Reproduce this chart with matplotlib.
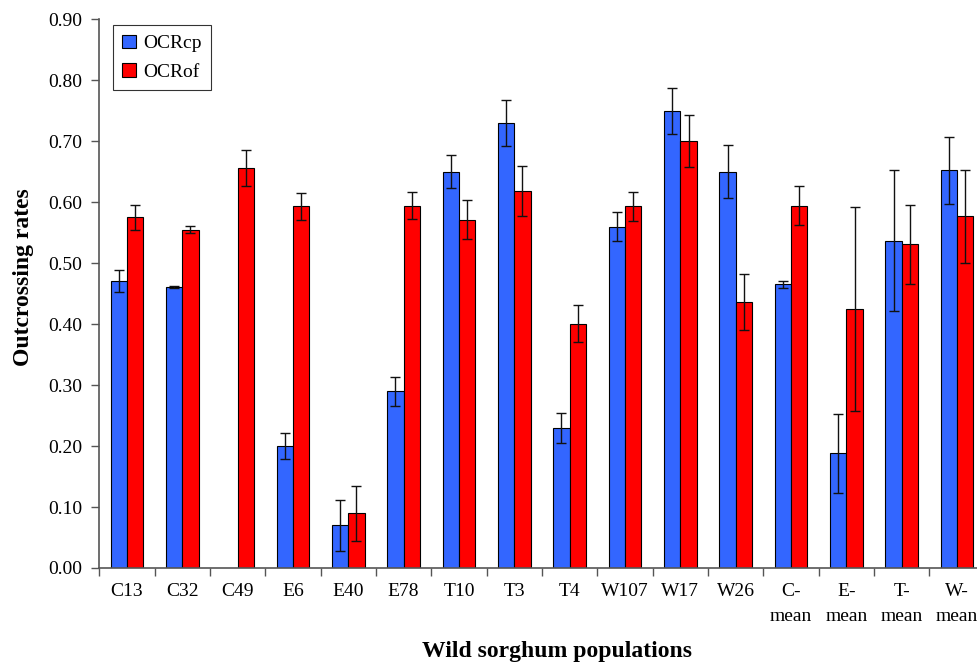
import matplotlib
matplotlib.use("Agg")
import matplotlib.pyplot as plt
import numpy as np

categories = ["C13", "C32", "C49", "E6", "E40", "E78", "T10", "T3", "T4",
              "W107", "W17", "W26", "C-\nmean", "E-\nmean", "T-\nmean", "W-\nmean"]
ocr_cp = [0.47, 0.461, 0.0, 0.20, 0.07, 0.29, 0.65, 0.73, 0.23,
          0.56, 0.75, 0.65, 0.465, 0.188, 0.537, 0.652]
ocr_cp_err = [0.018, 0.001, 0.0, 0.022, 0.042, 0.024, 0.027, 0.038, 0.025,
              0.024, 0.038, 0.043, 0.005, 0.065, 0.116, 0.055]
ocr_of = [0.575, 0.555, 0.656, 0.593, 0.09, 0.594, 0.571, 0.618, 0.401,
          0.593, 0.700, 0.437, 0.594, 0.425, 0.531, 0.577]
ocr_of_err = [0.02, 0.006, 0.03, 0.022, 0.045, 0.022, 0.032, 0.041, 0.03,
              0.024, 0.043, 0.046, 0.032, 0.1675, 0.065, 0.076]
yticks = [0.0, 0.1, 0.2, 0.3, 0.4, 0.5, 0.6, 0.7, 0.8, 0.9]

plt.rcParams['font.family'] = ['Liberation Serif', 'DejaVu Serif']

fig = plt.figure(figsize=(9.77, 6.63), dpi=100)
ax = fig.add_axes([0.1016, 0.1433, 0.9063, 0.8276])

x = np.arange(len(categories))
w = 0.295
blue = "#3366FF"
red = "#FF0000"
ekw = dict(ecolor="#111111", elinewidth=1.0, capsize=3.6, capthick=1.0)

cp_mask = np.array(ocr_cp) > 0
ax.bar(x[cp_mask] - w / 2, np.array(ocr_cp)[cp_mask], w, color=blue,
       edgecolor="black", linewidth=0.8, label="OCRcp",
       yerr=np.array(ocr_cp_err)[cp_mask], error_kw=ekw, zorder=2)
ax.bar(x + w / 2, ocr_of, w, color=red, edgecolor="black", linewidth=0.8,
       label="OCRof", yerr=ocr_of_err, error_kw=ekw, zorder=2)

ax.set_xlim(-0.5, len(categories) - 0.5)
ax.set_ylim(0, 0.9)
ax.set_yticks(yticks)
ax.set_yticklabels([f"{v:.2f}" for v in yticks], fontsize=14)

ax.set_xticks(np.arange(len(categories) + 1) - 0.5)
ax.set_xticklabels([])
ax.set_xticks(x, minor=True)
ax.set_xticklabels(categories, minor=True, fontsize=14, linespacing=1.6)
ax.tick_params(axis='x', which='minor', length=0, pad=11)
ax.tick_params(axis='x', which='major', length=6, width=1, color="#555555", direction='out')
ax.tick_params(axis='y', length=6, width=1, color="#555555", pad=6)

for s in ["top", "right"]:
    ax.spines[s].set_visible(False)
for s in ["left", "bottom"]:
    ax.spines[s].set_color("#555555")
    ax.spines[s].set_linewidth(1.2)

leg = ax.legend(loc="upper left", bbox_to_anchor=(0.0151, 0.9896), borderaxespad=0,
                fontsize=14, frameon=True, fancybox=False, edgecolor="black",
                handlelength=0.7, handleheight=0.7, handletextpad=0.35,
                labelspacing=0.55, borderpad=0.5)
leg.get_frame().set_linewidth(0.8)

fig.text(557 / 977, 1 - 652 / 663, "Wild sorghum populations", ha="center", va="center",
         fontsize=17, fontweight="bold")
fig.text(24 / 977, 1 - 277 / 663, "Outcrossing rates", ha="center", va="center",
         rotation=90, fontsize=17, fontweight="bold")

fig.savefig("out.png", dpi=100)
